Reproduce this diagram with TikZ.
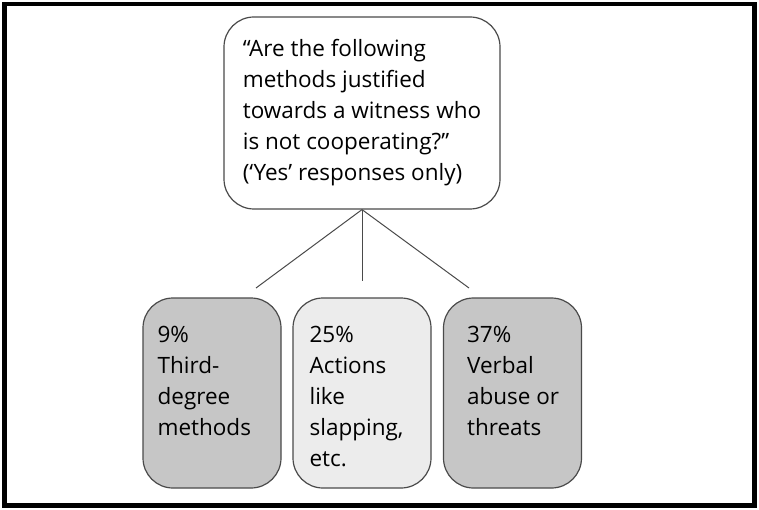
\documentclass[tikz,border=0pt]{standalone}
\usepackage{fontspec}
\setmainfont{Open Sans}
\definecolor{darkfill}{HTML}{C6C6C6}
\definecolor{lightfill}{HTML}{ECECEC}
\definecolor{edge}{HTML}{4A4A4A}
\begin{document}
\begin{tikzpicture}[x=1pt,y=-1pt,
  font=\fontsize{22.5}{31}\selectfont,
  qbox/.style={draw=edge,line width=1.2pt,rounded corners=30pt,fill=white,
    minimum width=276pt,minimum height=192pt,align=left,inner sep=0pt},
  abox/.style={draw=edge,line width=1.2pt,rounded corners=30pt,
    minimum width=138pt,minimum height=190pt,inner sep=0pt},
  atext/.style={anchor=north west,align=left,inner sep=0pt},
  link/.style={draw=edge,line width=1pt}]
\useasboundingbox (0,0) rectangle (759,510);
\draw [line width=4.5pt] (4.5,4) rectangle (754.5,505.5);
% question
\node [qbox] (question) at (362,113) {``Are the following\\methods justified\\towards a witness who\\is not cooperating?''\\(`Yes' responses only)};
% answers
\node [abox,fill=darkfill] (third) at (212,393) {};
\node [abox,fill=lightfill] (slap) at (362,393) {};
\node [abox,fill=darkfill] (verbal) at (512.5,393) {};
\node [atext] (thirdtext) at ([xshift=15pt,yshift=-29pt]third.north west) {9\%\\Third-\\degree\\methods};
\node [atext] (slaptext) at ([xshift=17pt,yshift=-29pt]slap.north west) {25\%\\Actions\\like\\slapping,\\etc.};
\node [atext] (verbaltext) at ([xshift=24pt,yshift=-29pt]verbal.north west) {37\%\\Verbal\\abuse or\\threats};
% links
\coordinate (thirdend) at (256,288);
\coordinate (slapend) at (362,281);
\coordinate (verbalend) at (469,288);
\draw [link] (question.south) -- (thirdend);
\draw [link] (question.south) -- (slapend);
\draw [link] (question.south) -- (verbalend);
\end{tikzpicture}
\end{document}
